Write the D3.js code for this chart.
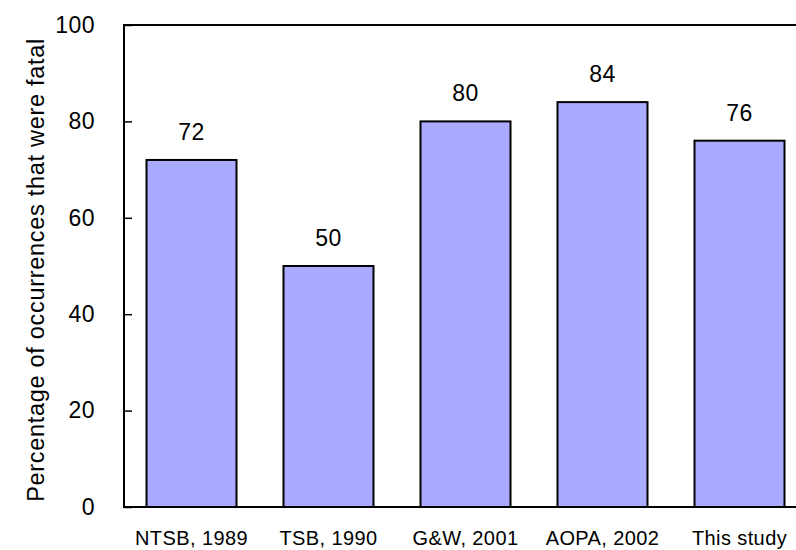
<!DOCTYPE html>
<html><head><meta charset="utf-8">
<script src="https://cdn.jsdelivr.net/npm/d3@7"></script>
<style>body{margin:0;background:#fff}svg{display:block}text{font-family:"Liberation Sans",Arial,sans-serif;fill:#000}</style>
</head><body>
<script>
const categories = ["NTSB, 1989","TSB, 1990","G&W, 2001","AOPA, 2002","This study"];
const values = [72,50,80,84,76];
const yTicks = [0,20,40,60,80,100];
const yTitle = "Percentage of occurrences that were fatal";

const W=796,H=550;
const svg=d3.select("body").append("svg").attr("width",W).attr("height",H);
const x0=124, y0=507, yTop=25;
const x=d3.scaleBand().domain(categories).range([123,808]).paddingInner(47/137).paddingOuter(47/274);
const y=d3.scaleLinear().domain([0,100]).range([y0,yTop]);

svg.selectAll("rect.bar").data(values).join("rect").attr("class","bar")
  .attr("x",(d,i)=>x(categories[i])).attr("width",x.bandwidth())
  .attr("y",d=>y(d)).attr("height",d=>y0-y(d))
  .attr("fill","#aaaaff").attr("stroke","#000").attr("stroke-width",2);

svg.selectAll("text.val").data(values).join("text").attr("class","val")
  .attr("x",(d,i)=>x(categories[i])+x.bandwidth()/2).attr("y",d=>y(d)-20)
  .attr("text-anchor","middle").attr("font-size",23).attr("letter-spacing",0.5).text(d=>d);

// y axis
const ya=svg.append("g").attr("transform",`translate(${x0},0)`)
  .call(d3.axisLeft(y).tickValues(yTicks).tickSize(-8).tickPadding(29));
ya.select(".domain").remove();
ya.selectAll(".tick line").attr("stroke","#000").attr("stroke-width",1.5);
ya.selectAll(".tick text").attr("font-size",23).attr("letter-spacing",0.5).attr("font-family","Liberation Sans, Arial, sans-serif").attr("fill","#000");

// x axis
const xa=svg.append("g").attr("transform",`translate(0,${y0})`)
  .call(d3.axisBottom(x).tickSize(0).tickPadding(24));
xa.select(".domain").remove();
xa.selectAll(".tick text").attr("font-size",20).attr("letter-spacing",0.4).attr("font-family","Liberation Sans, Arial, sans-serif").attr("fill","#000");

// frame lines
svg.append("line").attr("x1",x0).attr("x2",x0).attr("y1",yTop-1).attr("y2",y0+1).attr("stroke","#000").attr("stroke-width",2);
svg.append("line").attr("x1",x0-1).attr("x2",W).attr("y1",y0).attr("y2",y0).attr("stroke","#000").attr("stroke-width",2);
svg.append("line").attr("x1",x0-1).attr("x2",W).attr("y1",yTop).attr("y2",yTop).attr("stroke","#000").attr("stroke-width",2);

svg.append("text").attr("transform",`translate(44,${(yTop+y0)/2+4}) rotate(-90)`)
  .attr("text-anchor","middle").attr("font-size",23.5).attr("letter-spacing",0.7).text(yTitle);
</script>
</body></html>
